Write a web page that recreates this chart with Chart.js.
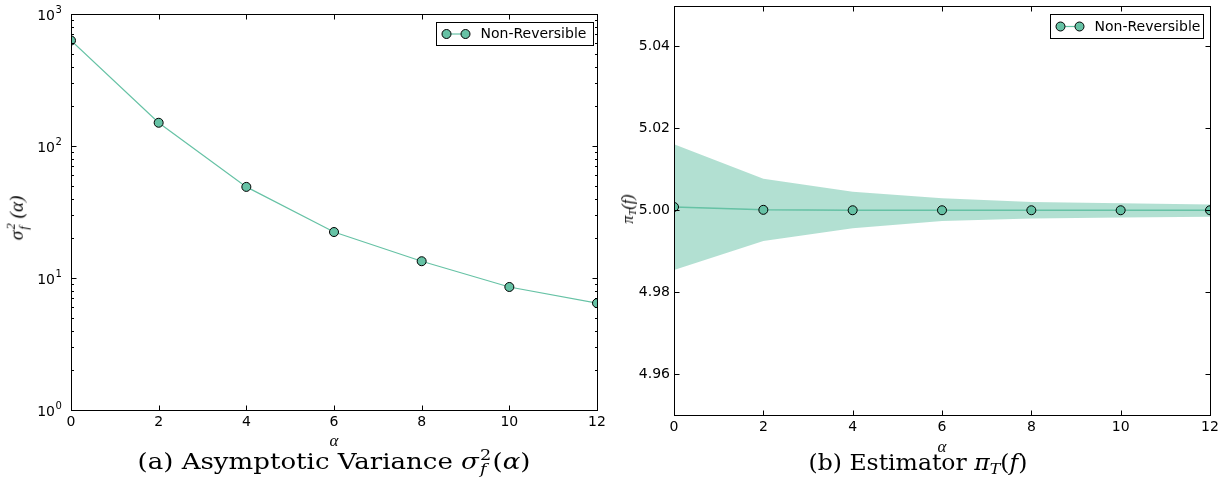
<!DOCTYPE html>
<html>
<head>
<meta charset="utf-8">
<script src="https://cdn.jsdelivr.net/npm/chart.js@4.4.1/dist/chart.umd.min.js"></script>
<style>
  html, body { margin:0; padding:0; background:#fff; }
  body { width:1228px; height:499px; position:relative; overflow:hidden; }
  .wrap { position:absolute; top:0; width:614px; height:440px; }
  .math { position:absolute; font-family:"Liberation Serif", serif; font-style:italic; color:#000; white-space:nowrap; line-height:1; }
  .cap { position:absolute; font-family:"DejaVu Serif", serif; color:#000; white-space:nowrap; line-height:1; font-size:22px; transform:translate(-50%,-50%); }
  .cap i { font-style:italic; }
  .stk { display:inline-flex; flex-direction:column; vertical-align:middle; font-size:0.68em; line-height:0.95; margin-left:1px; margin-right:1px; position:relative; top:-0.05em; }
  .rot { transform:translate(-50%,-50%) rotate(-90deg); }
  .ctr { transform:translate(-50%,-50%); }
  sub.s { font-size:0.68em; vertical-align:-0.3em; line-height:0; }
</style>
</head>
<body>
<div class="wrap" style="left:0"><canvas id="cv1" width="614" height="440"></canvas></div>
<div class="wrap" style="left:614px"><canvas id="cv2" width="614" height="440"></canvas></div>

<div class="math rot" style="left:18px; top:218px; font-size:19px;">σ<span class="stk"><span>2</span><span>f</span></span><span style="margin-left:4px">(α)</span></div>
<div class="math ctr" style="left:334px; top:440px; font-size:17px;">α</div>
<div class="math rot" style="left:628px; top:209px; font-size:16px;">π<sub class="s">T</sub>(f)</div>
<div class="math ctr" style="left:942px; top:446px; font-size:17px;">α</div>

<div class="cap fit" data-w="393" style="left:334px; top:463px;">(a) Asymptotic Variance <i>σ</i><span class="stk"><span>2</span><span><i>f</i></span></span>(<i>α</i>)</div>
<div class="cap fit" data-w="219" style="left:918px; top:463px;">(b) Estimator <i>π</i><sub class="s"><i>T</i></sub>(<i>f</i>)</div>

<script>
// ---------------- data ----------------
const alphas = [0, 2, 4, 6, 8, 10, 12];
const varianceValues = [630, 150, 49, 22.3, 13.4, 8.55, 6.45];
const estimatorMean  = [5.0008, 5.0001, 5.0000, 5.0000, 5.0000, 5.0000, 5.0000];
const estimatorUpper = [5.0161, 5.0077, 5.0045, 5.0029, 5.0020, 5.0017, 5.0014];
const estimatorLower = [4.9854, 4.9925, 4.9956, 4.9974, 4.9980, 4.9982, 4.9984];
const xTickValues = [0, 2, 4, 6, 8, 10, 12];
const xTickLabels = ['0', '2', '4', '6', '8', '10', '12'];
const logTickValues = [1, 10, 100, 1000];
const logTickExponents = ['0', '1', '2', '3'];
const estTickValues = [4.96, 4.98, 5.00, 5.02, 5.04];
const estTickLabels = ['4.96', '4.98', '5.00', '5.02', '5.04'];
const seriesName = 'Non-Reversible';

const GREEN = '#66c2a5';
const BAND = 'rgba(102,194,165,0.5)';
const TICKFONT = '14px "DejaVu Sans", sans-serif';

function pts(xs, ys) { return xs.map((x, i) => ({x: x, y: ys[i]})); }

// fit caption widths
document.querySelectorAll('.fit').forEach(el => {
  const w = el.offsetWidth;
  const s = parseFloat(el.dataset.w) / w;
  el.style.transform = 'translate(-50%,-50%) scaleX(' + s.toFixed(3) + ')';
});

function drawMarker(ctx, x, y) {
  ctx.beginPath();
  ctx.arc(x, y, 4.5, 0, Math.PI * 2);
  ctx.fillStyle = GREEN; ctx.fill();
  ctx.lineWidth = 1; ctx.strokeStyle = '#000'; ctx.stroke();
}

const framePlugin = {
  id: 'mplFrame',
  afterDraw(chart, args, o) {
    const ctx = chart.ctx;
    const a = chart.chartArea;
    const xs = chart.scales.x, ys = chart.scales.y;
    ctx.save();
    ctx.strokeStyle = '#000';
    ctx.lineWidth = 1;
    const L = Math.round(a.left) + 0.5, R = Math.round(a.right) + 0.5;
    const T = Math.round(a.top) + 0.5, B = Math.round(a.bottom) + 0.5;
    ctx.beginPath();
    o.xTicks.forEach(v => {
      const px = Math.round(xs.getPixelForValue(v)) + 0.5;
      ctx.moveTo(px, B); ctx.lineTo(px, B - 5);
      ctx.moveTo(px, T); ctx.lineTo(px, T + 5);
    });
    o.yTicks.forEach(v => {
      const py = Math.round(ys.getPixelForValue(v)) + 0.5;
      ctx.moveTo(L, py); ctx.lineTo(L + 5, py);
      ctx.moveTo(R, py); ctx.lineTo(R - 5, py);
    });
    (o.yMinor || []).forEach(v => {
      const py = Math.round(ys.getPixelForValue(v)) + 0.5;
      ctx.moveTo(L, py); ctx.lineTo(L + 2.5, py);
      ctx.moveTo(R, py); ctx.lineTo(R - 2.5, py);
    });
    ctx.stroke();
    ctx.strokeRect(L, T, R - L, B - T);
    // tick labels
    ctx.fillStyle = '#000';
    ctx.font = TICKFONT;
    ctx.textAlign = 'center'; ctx.textBaseline = 'middle';
    o.xTicks.forEach((v, i) => {
      ctx.fillText(o.xLabels[i], xs.getPixelForValue(v), a.bottom + 12);
    });
    if (o.logLabels) {
      o.yTicks.forEach((v, i) => {
        const py = ys.getPixelForValue(v);
        ctx.font = TICKFONT;
        ctx.textAlign = 'right'; ctx.textBaseline = 'middle';
        ctx.fillText('10', a.left - 16, py + 2);
        ctx.font = '10px "DejaVu Sans", sans-serif';
        ctx.textAlign = 'left';
        ctx.fillText(o.logLabels[i], a.left - 15.5, py - 4);
      });
    } else {
      ctx.textAlign = 'right'; ctx.textBaseline = 'middle';
      o.yTicks.forEach((v, i) => {
        ctx.fillText(o.yLabels[i], a.left - 4, ys.getPixelForValue(v));
      });
    }
    // legend
    const bw = o.legendW, bh = o.legendH;
    const bx = Math.round(a.right - o.legendRight - bw) + 0.5;
    const by = Math.round(a.top + o.legendTop) + 0.5;
    ctx.fillStyle = '#fff';
    ctx.fillRect(bx, by, bw, bh);
    ctx.strokeStyle = '#000'; ctx.lineWidth = 1;
    ctx.strokeRect(bx, by, bw, bh);
    const cy = by + bh / 2;
    ctx.beginPath();
    ctx.moveTo(bx + 10, cy); ctx.lineTo(bx + 29, cy);
    ctx.strokeStyle = GREEN; ctx.lineWidth = 1.2; ctx.stroke();
    drawMarker(ctx, bx + 10, cy);
    drawMarker(ctx, bx + 29, cy);
    ctx.fillStyle = '#000';
    ctx.font = TICKFONT;
    ctx.textAlign = 'left'; ctx.textBaseline = 'middle';
    ctx.fillText(o.legendText, bx + 44, cy + 0.5);
    ctx.restore();
  }
};

function fixedScale(w, h) {
  return function (scale) {
    if (w !== undefined) scale.width = w;
    if (h !== undefined) scale.height = h;
    scale.paddingLeft = 0; scale.paddingRight = 0;
    scale.paddingTop = 0; scale.paddingBottom = 0;
  };
}

const minorLog = [];
[1, 10, 100].forEach(d => { for (let k = 2; k <= 9; k++) minorLog.push(k * d); });

// ---------------- chart (a) ----------------
new Chart(document.getElementById('cv1'), {
  type: 'line',
  data: {
    datasets: [{
      label: seriesName,
      data: pts(alphas, varianceValues),
      borderColor: GREEN, borderWidth: 1.2,
      pointRadius: 4.5, pointHoverRadius: 4.5,
      pointBackgroundColor: GREEN, pointBorderColor: '#000', pointBorderWidth: 1,
      tension: 0, fill: false, clip: 0
    }]
  },
  options: {
    responsive: false, animation: false, devicePixelRatio: 1,
    layout: { padding: { top: 14, right: 17, left: 0, bottom: 0 } },
    plugins: {
      legend: { display: false }, tooltip: { enabled: false },
      mplFrame: {
        xTicks: xTickValues, xLabels: xTickLabels,
        yTicks: logTickValues, logLabels: logTickExponents, yMinor: minorLog,
        legendW: 157, legendH: 23, legendRight: 4, legendTop: 8, legendText: seriesName
      }
    },
    scales: {
      x: { type: 'linear', min: 0, max: 12, ticks: { display: false, stepSize: 2 },
           grid: { display: false, drawTicks: false }, border: { display: false },
           afterFit: fixedScale(undefined, 30) },
      y: { type: 'logarithmic', min: 1, max: 1000, ticks: { display: false },
           grid: { display: false, drawTicks: false }, border: { display: false },
           afterFit: fixedScale(71, undefined) }
    }
  },
  plugins: [framePlugin]
});

// ---------------- chart (b) ----------------
new Chart(document.getElementById('cv2'), {
  type: 'line',
  data: {
    datasets: [
      {
        label: seriesName,
        data: pts(alphas, estimatorMean),
        borderColor: GREEN, borderWidth: 1.5,
        pointRadius: 4.5, pointHoverRadius: 4.5,
        pointBackgroundColor: GREEN, pointBorderColor: '#000', pointBorderWidth: 1,
        tension: 0, fill: false, clip: 0
      },
      {
        label: 'upper',
        data: pts(alphas, estimatorUpper),
        borderWidth: 0, borderColor: 'rgba(0,0,0,0)', pointRadius: 0,
        backgroundColor: BAND, fill: '+1', tension: 0, clip: 0
      },
      {
        label: 'lower',
        data: pts(alphas, estimatorLower),
        borderWidth: 0, borderColor: 'rgba(0,0,0,0)', pointRadius: 0,
        fill: false, tension: 0, clip: 0
      }
    ]
  },
  options: {
    responsive: false, animation: false, devicePixelRatio: 1,
    layout: { padding: { top: 5, right: 18, left: 0, bottom: 0 } },
    plugins: {
      legend: { display: false }, tooltip: { enabled: false },
      filler: { propagate: false },
      mplFrame: {
        xTicks: xTickValues, xLabels: xTickLabels,
        yTicks: estTickValues, yLabels: estTickLabels,
        legendW: 153, legendH: 24, legendRight: 7, legendTop: 8, legendText: seriesName
      }
    },
    scales: {
      x: { type: 'linear', min: 0, max: 12, ticks: { display: false, stepSize: 2 },
           grid: { display: false, drawTicks: false }, border: { display: false },
           afterFit: fixedScale(undefined, 25) },
      y: { type: 'linear', min: 4.95, max: 5.05, ticks: { display: false },
           grid: { display: false, drawTicks: false }, border: { display: false },
           afterFit: fixedScale(60, undefined) }
    }
  },
  plugins: [framePlugin]
});
</script>
</body>
</html>
